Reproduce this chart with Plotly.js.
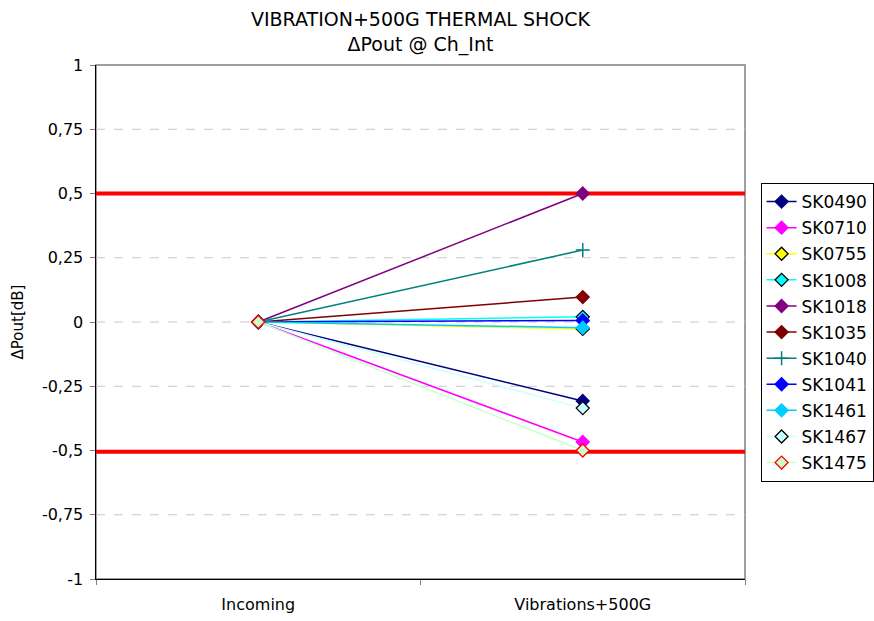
<!DOCTYPE html>
<html>
<head>
<meta charset="utf-8">
<script src="https://cdn.plot.ly/plotly-3.0.1.min.js"></script>
<style>html,body{margin:0;padding:0;background:#fff;}#chart{width:874px;height:621px;}</style>
</head>
<body>
<div id="chart"></div>
<script>
// Data
const categories = ["Incoming", "Vibrations+500G"];
const seriesNames = ["SK0490","SK0710","SK0755","SK1008","SK1018","SK1035","SK1040","SK1041","SK1461","SK1467","SK1475"];
const SK0490 = [0, -0.307];
const SK0710 = [0, -0.467];
const SK0755 = [0, -0.027];
const SK1008 = [0, 0.020];
const SK1018 = [0, 0.500];
const SK1035 = [0, 0.097];
const SK1040 = [0, 0.280];
const SK1041 = [0, 0.006];
const SK1461 = [0, -0.022];
const SK1467 = [0, -0.335];
const SK1475 = [0, -0.500];
const seriesValues = [SK0490,SK0710,SK0755,SK1008,SK1018,SK1035,SK1040,SK1041,SK1461,SK1467,SK1475];
const upperLimit = 0.5;
const lowerLimit = -0.505;
const yTickVals = [-1,-0.75,-0.5,-0.25,0,0.25,0.5,0.75,1];
const yTickText = ["-1","-0,75","-0,5","-0,25","0","0,25","0,5","0,75","1"];

// Styles
const styles = [
  {line:"#000080", fill:"#000080", outline:"#000080", symbol:"diamond"},
  {line:"#FF00FF", fill:"#FF00FF", outline:"#FF00FF", symbol:"diamond"},
  {line:"#FFFF00", fill:"#FFFF00", outline:"#000000", symbol:"diamond"},
  {line:"#00FFFF", fill:"#00FFFF", outline:"#000000", symbol:"diamond"},
  {line:"#800080", fill:"#800080", outline:"#800080", symbol:"diamond"},
  {line:"#800000", fill:"#800000", outline:"#800000", symbol:"diamond"},
  {line:"#008080", fill:"#008080", outline:"#008080", symbol:"cross-thin-open"},
  {line:"#0000FF", fill:"#0000FF", outline:"#0000FF", symbol:"diamond"},
  {line:"#00CCFF", fill:"#00CCFF", outline:"#00CCFF", symbol:"diamond"},
  {line:"#CCFFFF", fill:"#CCFFFF", outline:"#000000", symbol:"diamond"},
  {line:"#CCFFCC", fill:"#CCFFCC", outline:"#FF0000", symbol:"diamond"}
];

const FONT = "DejaVu Sans, Liberation Sans, Arial, sans-serif";

const traces = seriesNames.map((name, i) => {
  const s = styles[i];
  const isCross = s.symbol.indexOf("cross") === 0;
  return {
    type: "scatter",
    mode: "lines+markers",
    name: name,
    legendgroup: name,
    x: categories,
    y: seriesValues[i],
    line: {color: s.line, width: 1.5},
    marker: {
      symbol: s.symbol,
      size: 10,
      color: s.fill,
      line: {color: isCross ? s.line : s.outline, width: isCross ? 1.5 : 1.3}
    }
  };
});

// gridlines (dashed) at inner ticks, drawn as shapes under the limit lines
const gridShapes = yTickVals.filter(v => v > -1 && v < 1).map(v => ({
  type: "line", xref: "paper", yref: "y", x0: 0, x1: 1, y0: v, y1: v,
  line: {color: "#c8c8c8", width: 1, dash: "dash"}, layer: "below"
}));

const layout = {
  width: 874, height: 621,
  margin: {l: 96, r: 129, t: 65, b: 42, pad: 0, autoexpand: false},
  paper_bgcolor: "#ffffff",
  plot_bgcolor: "#ffffff",
  font: {family: FONT, size: 16, color: "#000"},
  title: {
    text: "VIBRATION+500G THERMAL SHOCK<br>ΔPout @ Ch_Int",
    font: {family: FONT, size: 19, color: "#000"},
    xref: "paper", x: 0.5, xanchor: "center",
    yref: "container", y: 1 - 26/621, yanchor: "middle"
  },
  xaxis: {
    type: "category",
    range: [-0.5, 1.5],
    showgrid: false,
    zeroline: false,
    showline: true, linecolor: "#000", linewidth: 1,
    ticks: "outside", ticklen: 5, tickcolor: "#808080", tickwidth: 1,
    tickson: "boundaries",
    ticklabelstandoff: 11,
    tickfont: {family: FONT, size: 16, color: "#000"}
  },
  yaxis: {
    range: [-1, 1],
    tickvals: yTickVals, ticktext: yTickText,
    showgrid: false,
    zeroline: false,
    showline: true, linecolor: "#000", linewidth: 1.5,
    ticks: "outside", ticklen: 5, tickcolor: "#808080", tickwidth: 1,
    ticklabelstandoff: 3,
    tickfont: {family: FONT, size: 16, color: "#000"},
    title: {text: "ΔPout[dB]", font: {family: FONT, size: 15, color: "#000"}, standoff: 14}
  },
  showlegend: true,
  legend: {
    x: 1.024, xanchor: "left", y: 0.7704, yanchor: "top",
    bordercolor: "#000", borderwidth: 1, bgcolor: "#fff",
    font: {family: FONT, size: 17, color: "#000"},
    tracegroupgap: 1,
    itemwidth: 30
  },
  shapes: [
    {type: "rect", xref: "paper", yref: "paper", x0: 0, x1: 1, y0: 0, y1: 1,
     line: {color: "#808080", width: 1.5}, layer: "below"}
  ].concat(gridShapes).concat([
    {type: "line", xref: "paper", yref: "y", x0: 0, x1: 1, y0: upperLimit, y1: upperLimit,
     line: {color: "#FF0000", width: 4}, layer: "below"},
    {type: "line", xref: "paper", yref: "y", x0: 0, x1: 1, y0: lowerLimit, y1: lowerLimit,
     line: {color: "#FF0000", width: 4}, layer: "below"}
  ])
};

Plotly.newPlot("chart", traces, layout, {displayModeBar: false, staticPlot: true});
</script>
</body>
</html>
